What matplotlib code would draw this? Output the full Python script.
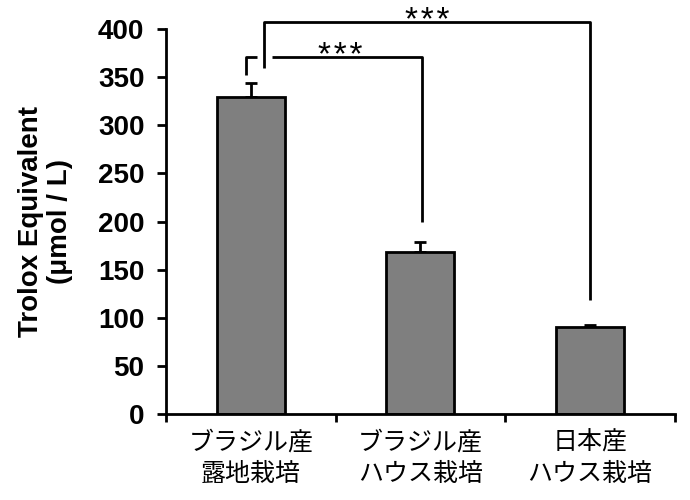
import matplotlib
matplotlib.use("Agg")
import matplotlib.pyplot as plt

categories = ["ブラジル産\n露地栽培", "ブラジル産\nハウス栽培", "日本産\nハウス栽培"]
values = [329, 168, 90]
errors = [15, 11, 2]
yticks = [0, 50, 100, 150, 200, 250, 300, 350, 400]

fig = plt.figure(figsize=(6.9, 5), dpi=100)
ax = fig.add_axes([0.2406, 0.172, 0.978 - 0.2406, 0.942 - 0.172])

x = list(range(len(categories)))
ax.errorbar(x, values, yerr=[[0] * len(values), errors], fmt="none", ecolor="black",
            elinewidth=2, capsize=4, capthick=2, zorder=1)
ax.bar(x, values, width=0.4, color="#7f7f7f", edgecolor="black", linewidth=2, zorder=2)

ax.set_xlim(-0.5, 2.5)
ax.set_ylim(0, 400)
ax.set_yticks(yticks)
ax.set_yticklabels([str(t) for t in yticks], fontsize=20, fontweight="bold", family="Liberation Sans")
ax.set_xticks([-0.5, 0.5, 1.5, 2.5])
ax.set_xticklabels([])
ax.set_xticks(x, minor=True)
ax.set_xticklabels(categories, minor=True, fontsize=18, family=["Noto Sans CJK JP", "DejaVu Sans"],
                   linespacing=1.3)
ax.tick_params(axis="x", which="minor", length=0, pad=11)
ax.tick_params(axis="x", which="major", length=6, width=2, direction="out")
ax.tick_params(axis="y", length=6.5, width=2, direction="out", pad=9)
for s in ["top", "right"]:
    ax.spines[s].set_visible(False)
for s in ["left", "bottom"]:
    ax.spines[s].set_linewidth(2)

ax.set_ylabel("Trolox Equivalent\n(μmol / L)", fontsize=20, fontweight="bold", family="Liberation Sans",
              labelpad=18, linespacing=1.15)

lk = dict(color="black", linewidth=2, clip_on=False, solid_capstyle="butt")
# inner bracket (bar 0 vs bar 1)
ax.plot([-0.03, -0.03, 0.035], [352, 371, 371], **lk)
ax.plot([0.124, 1.01, 1.01], [371, 371, 199], **lk)
# outer bracket (bar 0 vs bar 2)
ax.plot([0.077, 0.077, 2.0, 2.0], [360, 407, 407, 118], **lk)
stars = "*\u200a*\u200a*"
ax.text(0.53, 363, stars, ha="center", va="baseline", fontsize=24,
        family=["Liberation Sans", "DejaVu Sans"], clip_on=False)
ax.text(1.04, 398.5, stars, ha="center", va="baseline", fontsize=24,
        family=["Liberation Sans", "DejaVu Sans"], clip_on=False)

fig.savefig("out.png", dpi=100)
